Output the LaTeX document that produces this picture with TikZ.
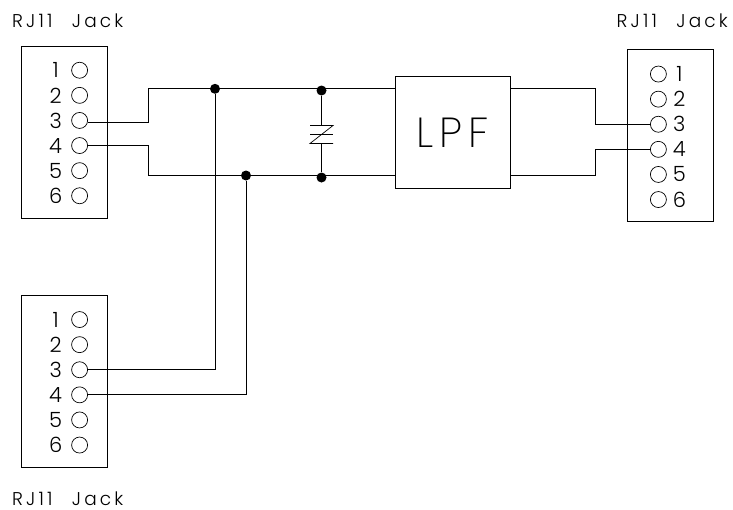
\documentclass[tikz,border=0pt]{standalone}
\usepackage{fontspec}
\newfontfamily\cadfont[LetterSpace=17]{Poppins Light}
\newfontfamily\cadthin[LetterSpace=14]{Poppins ExtraLight}
\usetikzlibrary{matrix}
\tikzset{
    wire/.style={draw,line width=.9pt},
    junction/.style={circle,fill=black,inner sep=0pt,minimum size=10pt},
    jack/.style={draw,line width=.9pt,inner sep=0pt,minimum width=86pt,minimum height=172pt},
    pinhole/.style={circle,draw,line width=.7pt,inner sep=0pt,minimum size=16pt},
    jackpins/.style={matrix of nodes,
        nodes={font=\cadfont\fontsize{21}{21}\selectfont,anchor=center,inner sep=0pt,minimum height=16pt},
        column sep=9pt,row sep=8.4pt},
    jacklabel/.style={font=\cadfont\fontsize{18.5}{18.5}\selectfont,inner sep=0pt,anchor=west}
}
\begin{document}
\begin{tikzpicture}[x=1pt,y=-1pt]
    \useasboundingbox (0,0) rectangle (733,509);

    % jacks
    \node[jack] (boxa) at (64.5,132) {};
    \node[jack] (boxb) at (64.5,381.3) {};
    \node[jack] (boxc) at (670.5,135.5) {};
    \node[draw,line width=.9pt,inner sep=0pt,minimum width=115pt,minimum height=111.5pt,
        font=\cadthin\fontsize{42}{42}\selectfont] (lpf) at (452.8,132.5) {\raisebox{-3pt}{LPF}};

    \matrix (pinsa) [jackpins] at (68.5,133) {
        1 & |[pinhole]| {} \\
        2 & |[pinhole]| {} \\
        3 & |[pinhole]| {} \\
        4 & |[pinhole]| {} \\
        5 & |[pinhole]| {} \\
        6 & |[pinhole]| {} \\
    };
    \matrix (pinsb) [jackpins] at (68.5,382.3) {
        1 & |[pinhole]| {} \\
        2 & |[pinhole]| {} \\
        3 & |[pinhole]| {} \\
        4 & |[pinhole]| {} \\
        5 & |[pinhole]| {} \\
        6 & |[pinhole]| {} \\
    };
    \matrix (pinsc) [jackpins,column sep=6pt] at (668,136.8) {
        |[pinhole]| {} & 1 \\
        |[pinhole]| {} & 2 \\
        |[pinhole]| {} & 3 \\
        |[pinhole]| {} & 4 \\
        |[pinhole]| {} & 5 \\
        |[pinhole]| {} & 6 \\
    };

    \node[jacklabel] (labela) at (12,21) {RJ11\hspace{1.05em}Jack};
    \node[jacklabel] (labelc) at (616.5,21) {RJ11\hspace{1.05em}Jack};
    \node[jacklabel] (labelb) at (12,498.5) {RJ11\hspace{1.05em}Jack};

    % junctions
    \node[junction] (dottop) at (215,88.8) {};
    \node[junction] (dotbot) at (246,175.5) {};
    \node[junction] (dotcaptop) at (321.5,90.5) {};
    \node[junction] (dotcapbot) at (321.5,177.5) {};

    \coordinate (benda) at (148.5,88.8);
    \coordinate (bendb) at (148.5,175.5);
    \coordinate (bendc) at (595.5,88.8);
    \coordinate (bendd) at (595.5,175.5);

    % wires
    \draw[wire] ([yshift=-1.5pt]pinsa-3-2.east) -| (benda) -- (lpf.west |- benda);
    \draw[wire] (pinsa-4-2.east) -| (bendb) -- (lpf.west |- bendb);
    \draw[wire] (lpf.east |- bendc) -- (bendc) |- (pinsc-3-1.west);
    \draw[wire] (lpf.east |- bendd) -- (bendd) |- (pinsc-4-1.west);
    \draw[wire] (pinsb-3-2.east) -| (dottop);
    \draw[wire] (pinsb-4-2.east) -| (dotbot);

    % capacitor
    \coordinate (platetop) at (321.5,125.5);
    \coordinate (platebot) at (321.5,143.5);
    \draw[wire] (dotcaptop) -- (platetop);
    \draw[wire] (dotcapbot) -- (platebot);
    \draw[line width=.7pt] (310,125.5) -- (333,125.5) -- (310,143.5) -- (333,143.5);
    \draw[line width=.7pt] (310,134) -- (333,134);

\end{tikzpicture}
\end{document}
